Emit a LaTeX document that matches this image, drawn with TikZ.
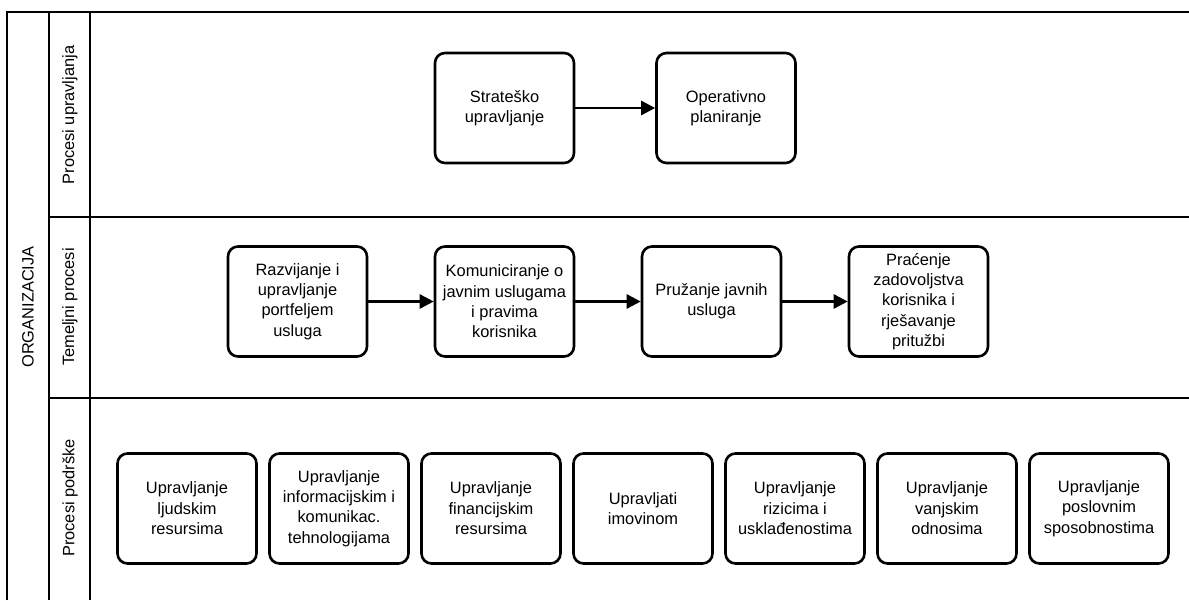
\documentclass[tikz,border=0pt]{standalone}
\usepackage{fontspec}
\setmainfont{Liberation Sans}
\usetikzlibrary{arrows.meta}
\newcommand{\mkproc}[4]{\node[proc] (#1) at (#2,#3) {#4};}
\newcommand{\lanelabel}[3]{\node[rotate=90] (#1) at (70,#2) {#3};}

\begin{document}
\begin{tikzpicture}[x=0.5pt,y=-0.5pt,font=\fontsize{8.2}{10.2}\selectfont,
	frame/.style={line width=1pt},
	proc/.style={draw,line width=1.3pt,rounded corners=5pt,align=center,
		minimum width=69.5pt,minimum height=55pt,inner sep=1pt},
	flow/.style={line width=1.3pt,-{Triangle[length=7pt,width=7pt]}}]
	\useasboundingbox (0,0) rectangle (1189,600);
	
	% Draw the frame and lanes
	\draw[frame] (7,600) -- (7,12) -- (1189,12);
	\draw[frame] (49,12) -- (49,600);
	\draw[frame] (90,12) -- (90,600);
	\draw[frame] (49,217) -- (1189,217);
	\draw[frame] (49,398) -- (1189,398);
	
	% Lane labels
	\node[rotate=90] (org) at (28,307) {ORGANIZACIJA};
	\lanelabel{upr}{115}{Procesi upravljanja}
	\lanelabel{tem}{307}{Temeljni procesi}
	\lanelabel{pod}{498}{Procesi podrške}
	
	% Procesi upravljanja
	\mkproc{strat}{504.5}{108}{Strateško\\upravljanje}
	\mkproc{oper}{726}{108}{Operativno\\planiranje}
	
	% Temeljni procesi
	\mkproc{razv}{297.5}{301.5}{Razvijanje i\\upravljanje\\portfeljem\\usluga}
	\mkproc{kom}{504.5}{301.5}{Komuniciranje o\\javnim uslugama\\i pravima\\korisnika}
	\mkproc{pruz}{711.5}{301.5}{Pružanje javnih\\usluga}
	\mkproc{prac}{918.5}{301.5}{Praćenje\\zadovoljstva\\korisnika i\\rješavanje\\pritužbi}
	
	% Procesi podrske
	\mkproc{ljud}{187}{508.5}{Upravljanje\\ljudskim\\resursima}
	\mkproc{ikt}{339}{508.5}{Upravljanje\\informacijskim i\\komunikac.\\tehnologijama}
	\mkproc{fin}{491}{508.5}{Upravljanje\\financijskim\\resursima}
	\mkproc{imov}{643}{508.5}{Upravljati\\imovinom}
	\mkproc{riz}{795}{508.5}{Upravljanje\\rizicima i\\usklađenostima}
	\mkproc{vanj}{947}{508.5}{Upravljanje\\vanjskim\\odnosima}
	\mkproc{posl}{1099}{508.5}{Upravljanje\\poslovnim\\sposobnostima}
	
	% Arrows
	\foreach \a/\b in {strat/oper,razv/kom,kom/pruz,pruz/prac}
		\draw[flow] (\a) -- (\b);
\end{tikzpicture}
\end{document}
